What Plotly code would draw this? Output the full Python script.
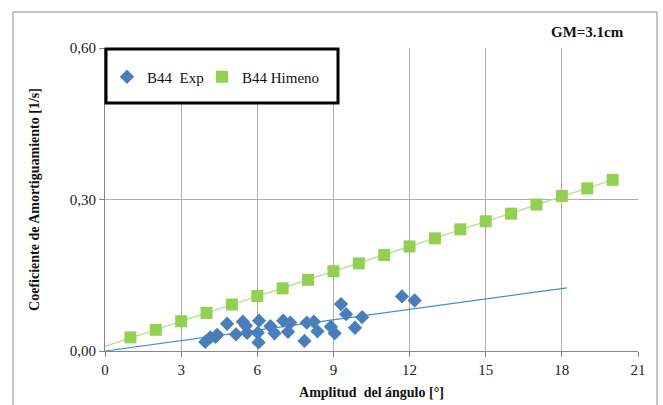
import numpy as np
import plotly.graph_objects as go

# Measured damping coefficients (B44 Exp)
exp_x = [3.95, 4.15, 4.35, 4.42, 4.81, 5.16, 5.43, 5.55, 5.60, 6.07, 6.02, 6.05,
         6.52, 6.68, 7.02, 7.21, 7.30, 7.86, 7.95, 8.23, 8.37, 8.90, 9.05, 9.30,
         9.50, 9.85, 10.13, 11.70, 12.20]
exp_y = [0.018, 0.027, 0.028, 0.032, 0.054, 0.033, 0.058, 0.050, 0.036, 0.060,
         0.036, 0.017, 0.049, 0.035, 0.060, 0.038, 0.056, 0.020, 0.056, 0.058,
         0.039, 0.048, 0.035, 0.093, 0.073, 0.046, 0.067, 0.108, 0.100]

# Himeno method prediction (B44 Himeno)
him_x = list(range(1, 21))
him_y = [0.027, 0.042, 0.059, 0.0755, 0.092, 0.109, 0.124, 0.141, 0.158, 0.1735,
         0.190, 0.207, 0.223, 0.241, 0.257, 0.272, 0.290, 0.307, 0.322, 0.339]

x_ticks = [0, 3, 6, 9, 12, 15, 18, 21]
y_ticks = [0.0, 0.30, 0.60]

# Trendlines: experimental fit through origin (forecast 6 forward),
# Himeno linear fit (forecast 1 backward)
ex = np.array(exp_x)
ey = np.array(exp_y)
slope_exp = float((ex * ey).sum() / (ex * ex).sum())
tx_exp = np.array([0.0, ex.max() + 6.0])
ty_exp = slope_exp * tx_exp

hx = np.array(him_x, dtype=float)
hy = np.array(him_y)
m_h, b_h = np.polyfit(hx, hy, 1)
tx_h = np.array([hx.min() - 1.0, hx.max()])
ty_h = m_h * tx_h + b_h

SERIF = "Liberation Serif, Times New Roman, serif"

fig = go.Figure()
fig.add_trace(go.Scatter(x=tx_h, y=ty_h, mode="lines", showlegend=False,
                         line=dict(color="#BEE394", width=1.5), hoverinfo="skip"))
fig.add_trace(go.Scatter(x=tx_exp, y=ty_exp, mode="lines", showlegend=False,
                         line=dict(color="#3E91D8", width=1.2), hoverinfo="skip"))
fig.add_trace(go.Scatter(x=exp_x, y=exp_y, mode="markers", name="B44  Exp",
                         legend="legend",
                         marker=dict(symbol="diamond", size=11, color="#4A7EBB",
                                     line=dict(width=0))))
fig.add_trace(go.Scatter(x=him_x, y=him_y, mode="markers", name="B44 Himeno",
                         legend="legend2",
                         marker=dict(symbol="square", size=12, color="#92D050",
                                     line=dict(width=0))))

L, R, T, B = 105, 25, 48, 54
W, H = 663, 405
pw, ph = W - L - R, H - T - B

def px_x(p):
    return (p - L) / pw

def px_y(p):
    return 1 - (p - T) / ph

legend_style = dict(orientation="h", y=px_y(77), xanchor="left",
                    yanchor="middle", bgcolor="rgba(0,0,0,0)", borderwidth=0,
                    font=dict(family=SERIF, size=15, color="#111"), itemwidth=30)

fig.update_layout(
    width=W, height=H,
    margin=dict(l=L, r=R, t=T, b=B, autoexpand=False),
    paper_bgcolor="white", plot_bgcolor="white",
    separators=",.",
    font=dict(family=SERIF, size=15, color="#222"),
    showlegend=True,
    legend=dict(x=px_x(107), **legend_style),
    legend2=dict(x=px_x(202), **legend_style),
    xaxis=dict(range=[0, 21], tickvals=x_ticks, ticktext=[str(v) for v in x_ticks],
               showgrid=True, gridcolor="#ADADAD", gridwidth=1,
               showline=True, linecolor="#868686", linewidth=1,
               ticks="outside", ticklen=5, tickcolor="#868686",
               zeroline=False, automargin=False,
               title=dict(text="<b>Amplitud  del ángulo [°]</b>",
                          font=dict(family=SERIF, size=14, color="#111"),
                          standoff=10)),
    yaxis=dict(range=[0, 0.6], tickvals=y_ticks, tickformat=".2f",
               showgrid=True, gridcolor="#ADADAD", gridwidth=1,
               showline=True, linecolor="#868686", linewidth=1,
               ticks="outside", ticklen=5, tickcolor="#868686",
               zeroline=False, automargin=False,
               title=dict(text="<b>Coeficiente de Amortiguamiento [1/s]</b>",
                          font=dict(family=SERIF, size=14, color="#111"),
                          standoff=26)),
    shapes=[
        dict(type="rect", xref="paper", yref="paper",
             x0=px_x(13), x1=px_x(657), y0=px_y(407), y1=px_y(12),
             line=dict(color="#8C8C8C", width=1), layer="below"),
        dict(type="rect", xref="paper", yref="paper",
             x0=px_x(106), x1=px_x(338), y0=px_y(103), y1=px_y(49),
             line=dict(color="black", width=3), fillcolor="white", layer="above"),
    ],
    annotations=[
        dict(text="<b>GM=3.1cm</b>", xref="paper", yref="paper",
             x=px_x(587), y=px_y(32), xanchor="center", yanchor="middle",
             showarrow=False,
             font=dict(family=SERIF, size=15, color="#111")),
    ],
)

fig.write_html("out.html")
